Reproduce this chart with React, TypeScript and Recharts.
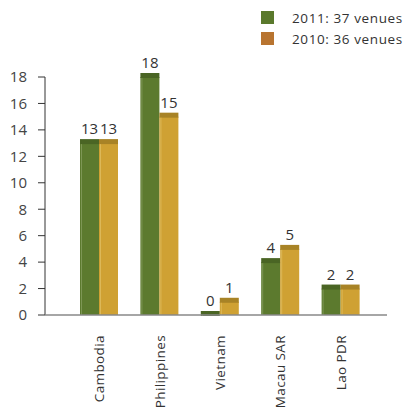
import { BarChart, Bar, XAxis, YAxis, LabelList } from 'recharts'

const countries = ['Cambodia', 'Philippines', 'Vietnam', 'Macau SAR', 'Lao PDR']
const venues2011 = [13, 18, 0, 4, 2]
const venues2010 = [13, 15, 1, 5, 2]
const yTicks = [0, 2, 4, 6, 8, 10, 12, 14, 16, 18]
const legendItems = [
  { label: '2011: 37 venues', color: '#5a792c' },
  { label: '2010: 36 venues', color: '#b87430' },
]

const data = countries.map((name, i) => ({ name, y2011: venues2011[i], y2010: venues2010[i] }))

const FONT = '"Open Sans", "Noto Sans", sans-serif'

// front face plus a darker top strip, so the bars look a little 3D
function makeBar(face: string, top: string, edge: string) {
  return (props: any) => {
    const { x, y, width, height } = props
    const h = Math.max(height, 0)
    return (
      <g>
        <rect x={x} y={y} width={width} height={h} fill={face} />
        <rect x={x} y={y - 4} width={width} height={5} fill={top} />
        <line x1={x + 1.5} x2={x + 1.5} y1={y + 1} y2={y + h} stroke={edge} strokeWidth={1} />
      </g>
    )
  }
}

const greenBar = makeBar('#5c7a2e', '#4a6524', '#7d9654')
const goldBar = makeBar('#cfa133', '#a88326', '#dcb858')

function CountryTick({ x, y, payload }: any) {
  return (
    <text
      transform={`translate(${x + 5},${y + 12}) rotate(-90)`}
      textAnchor="end"
      fontSize={13.5}
      letterSpacing={0.4}
      fill="#333"
      fontFamily={FONT}
    >
      {payload.value}
    </text>
  )
}

function LegendBox() {
  return (
    <div
      style={{
        position: 'absolute',
        left: 261,
        top: 7,
        fontFamily: FONT,
        fontSize: 13.5,
        letterSpacing: 0.6,
        color: '#333',
      }}
    >
      {legendItems.map((item) => (
        <div key={item.label} style={{ display: 'flex', alignItems: 'center', height: 21 }}>
          <span style={{ width: 13, height: 13, background: item.color, marginRight: 18 }} />
          <span>{item.label}</span>
        </div>
      ))}
    </div>
  )
}

export default function App() {
  return (
    <div style={{ position: 'absolute', left: 0, top: 0, width: 407, height: 407, background: '#fff' }}>
      <LegendBox />
      <BarChart
        width={407}
        height={407}
        data={data}
        margin={{ top: 77, right: 20, bottom: 7, left: 0 }}
        barGap={0}
        barSize={19}
      >
        <YAxis
          width={45}
          domain={[0, 18]}
          ticks={yTicks}
          interval={0}
          tickSize={7}
          tickMargin={11}
          axisLine={{ stroke: '#333' }}
          tickLine={{ stroke: '#333' }}
          tick={{ fontSize: 15, fill: '#444', fontFamily: FONT }}
        />
        <XAxis
          dataKey="name"
          height={85}
          interval={0}
          padding={{ left: 24, right: 16 }}
          tickLine={false}
          axisLine={{ stroke: '#888', strokeWidth: 1.5 }}
          tick={<CountryTick />}
        />
        <Bar dataKey="y2011" shape={greenBar} isAnimationActive={false}>
          <LabelList dataKey="y2011" position="top" offset={9} fontSize={15} fill="#333" fontFamily={FONT} />
        </Bar>
        <Bar dataKey="y2010" shape={goldBar} isAnimationActive={false}>
          <LabelList dataKey="y2010" position="top" offset={9} fontSize={15} fill="#333" fontFamily={FONT} />
        </Bar>
      </BarChart>
    </div>
  )
}
